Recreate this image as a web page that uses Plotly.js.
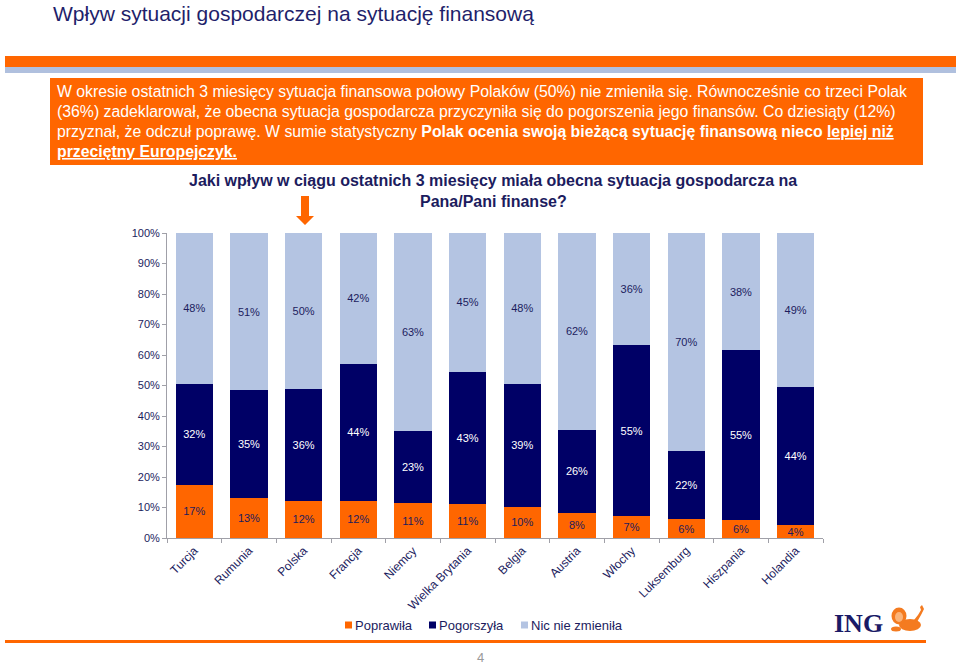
<!DOCTYPE html>
<html>
<head>
<meta charset="utf-8">
<script src="https://cdn.plot.ly/plotly-3.0.1.min.js"></script>
<style>html,body{margin:0;padding:0;background:#fff;}#chart{width:960px;height:666px;}</style>
</head>
<body>
<div id="chart"></div>
<script>
const countries = ["Turcja","Rumunia","Polska","Francja","Niemcy","Wielka Brytania","Belgia","Austria","Włochy","Luksemburg","Hiszpania","Holandia"];
const poprawila = [17,13,12,12,11,11,10,8,7,6,6,4];
const pogorszyla = [32,35,36,44,23,43,39,26,55,22,55,44];
const nicNieZmienila = [48,51,50,42,63,45,48,62,36,70,38,49];
const seriesNames = ["Poprawiła","Pogorszyła","Nic nie zmieniła"];
const yTicks = [0,10,20,30,40,50,60,70,80,90,100];

const FONT = "Liberation Sans, Arial, Helvetica, sans-serif";
const NAVY = "#000066";
const ORANGE = "#FF6600";
const LIGHT = "#B4C4E2";
const TXT = "#1c1c5e";
const seriesColors = [ORANGE, NAVY, LIGHT];

const L = 167, R = 823, T = 233, B = 538;
const W = R - L, H = B - T;
const X = px => (px - L) / W;
const Y = py => (B - py) / H;

function barTrace(name, vals, color, textColor) {
  return {
    type: "bar", name: name, x: countries, y: vals,
    marker: {color: color, line: {width: 0}},
    text: vals.map(v => v + "%"),
    textposition: "inside", insidetextanchor: "middle",
    constraintext: "none",
    textfont: {family: FONT, size: 11, color: textColor},
    hoverinfo: "x+y+name"
  };
}

const data = [
  barTrace(seriesNames[0], poprawila, seriesColors[0], TXT),
  barTrace(seriesNames[1], pogorszyla, seriesColors[1], "#ffffff"),
  barTrace(seriesNames[2], nicNieZmienila, seriesColors[2], TXT)
];

function rectPx(x0, y0, x1, y1, color) {
  return {type: "rect", xref: "paper", yref: "paper", x0: X(x0), x1: X(x1), y0: Y(y0), y1: Y(y1),
    fillcolor: color, line: {width: 0}, layer: "below"};
}
function pathPx(pts, color) {
  let d = pts.map((p, i) => (i ? "L" : "M") + X(p[0]) + "," + Y(p[1])).join(" ") + " Z";
  return {type: "path", xref: "paper", yref: "paper", path: d, fillcolor: color, line: {width: 0}};
}
function circlePx(cx, cy, rx, ry, color) {
  return {type: "circle", xref: "paper", yref: "paper", x0: X(cx - rx), x1: X(cx + rx), y0: Y(cy + ry), y1: Y(cy - ry),
    fillcolor: color, line: {width: 0}};
}

// legend layout (pixel positions of swatches and labels)
const legendSwatchX = [345, 429, 521];
const legendY = 625;

const shapes = [
  rectPx(5, 56, 956, 67, ORANGE),
  rectPx(5, 67, 956, 73, "#B0C0DE"),
  rectPx(50, 78, 923, 165, ORANGE),
  rectPx(5, 640, 926, 643, ORANGE),
  pathPx([[301,196],[309,196],[309,216],[314,216],[305,225],[296,216],[301,216]], ORANGE),
  // ING lion (simplified)
  circlePx(910, 625, 11, 6, "#F47B20"),
  pathPx([[917,622],[921,615],[924,609],[922,605],[920,607],[921,610],[918,615],[914,620]], "#F47B20"),
  circlePx(899, 616, 7.5, 8.5, "#F47B20"),
  circlePx(899, 617, 4, 5, "#FBB47A"),
  circlePx(896, 629, 5, 2.5, "#F47B20")
];
legendSwatchX.forEach((sx, i) => {
  const s = rectPx(sx, legendY - 3.5, sx + 7, legendY + 3.5, seriesColors[i]);
  s.layer = "above";
  shapes.push(s);
});

function ann(px, py, text, opts) {
  return Object.assign({xref: "paper", yref: "paper", x: X(px), y: Y(py), text: text, showarrow: false,
    xanchor: "left", yanchor: "middle", font: {family: FONT, size: 15.8, color: "#ffffff"}}, opts || {});
}

const annotations = [
  ann(51, 13, "Wpływ sytuacji gospodarczej na sytuację finansową", {font: {family: FONT, size: 21, color: "#1f1f6b"}}),
  ann(55, 91, "W okresie ostatnich 3 miesięcy sytuacja finansowa połowy Polaków (50%) nie zmieniła się. Równocześnie co trzeci Polak"),
  ann(55, 111, "(36%) zadeklarował, że obecna sytuacja gospodarcza przyczyniła się do pogorszenia jego finansów. Co dziesiąty (12%)"),
  ann(55, 131, "przyznał, że odczuł poprawę. W sumie statystyczny <b>Polak ocenia swoją bieżącą sytuację finansową nieco <u>lepiej niż</u></b>"),
  ann(55, 151, "<b><u>przeciętny Europejczyk.</u></b>"),
  ann(493, 181, "<b>Jaki wpływ w ciągu ostatnich 3 miesięcy miała obecna sytuacja gospodarcza na</b>", {xanchor: "center", font: {family: FONT, size: 16, color: TXT}}),
  ann(493, 201, "<b>Pana/Pani finanse?</b>", {xanchor: "center", font: {family: FONT, size: 16, color: TXT}}),
  ann(858, 623, "<b>ING</b>", {xanchor: "center", font: {family: "Liberation Serif, Times New Roman, serif", size: 26, color: "#1a1a66"}}),
  ann(480, 657, "4", {xanchor: "center", font: {family: FONT, size: 13, color: "#9a9a9a"}})
];
legendSwatchX.forEach((sx, i) => {
  annotations.push(ann(sx + 8, legendY, seriesNames[i], {font: {family: FONT, size: 13, color: TXT}}));
});

const layout = {
  width: 960, height: 666,
  margin: {l: L, r: 960 - R, t: T, b: 666 - B, pad: 0},
  paper_bgcolor: "#ffffff", plot_bgcolor: "#ffffff",
  barmode: "stack", barnorm: "percent", bargap: 0.32,
  font: {family: FONT, color: TXT},
  showlegend: false,
  xaxis: {type: "category", showgrid: false, zeroline: false, showline: true, linecolor: "#a0a0a8", linewidth: 1,
    ticks: "outside", tickson: "boundaries", ticklen: 4, tickcolor: "#a0a0a8", tickangle: -45,
    tickfont: {family: FONT, size: 12, color: TXT}, fixedrange: true},
  yaxis: {range: [0, 100], tickvals: yTicks, ticktext: yTicks.map(v => v + "%"), showgrid: false, zeroline: false,
    showline: true, linecolor: "#a0a0a8", linewidth: 1, ticks: "outside", ticklen: 4, tickcolor: "#a0a0a8",
    tickfont: {family: FONT, size: 11, color: TXT}, fixedrange: true},
  shapes: shapes,
  annotations: annotations
};

Plotly.newPlot("chart", data, layout, {displayModeBar: false, staticPlot: true});
</script>
</body>
</html>
